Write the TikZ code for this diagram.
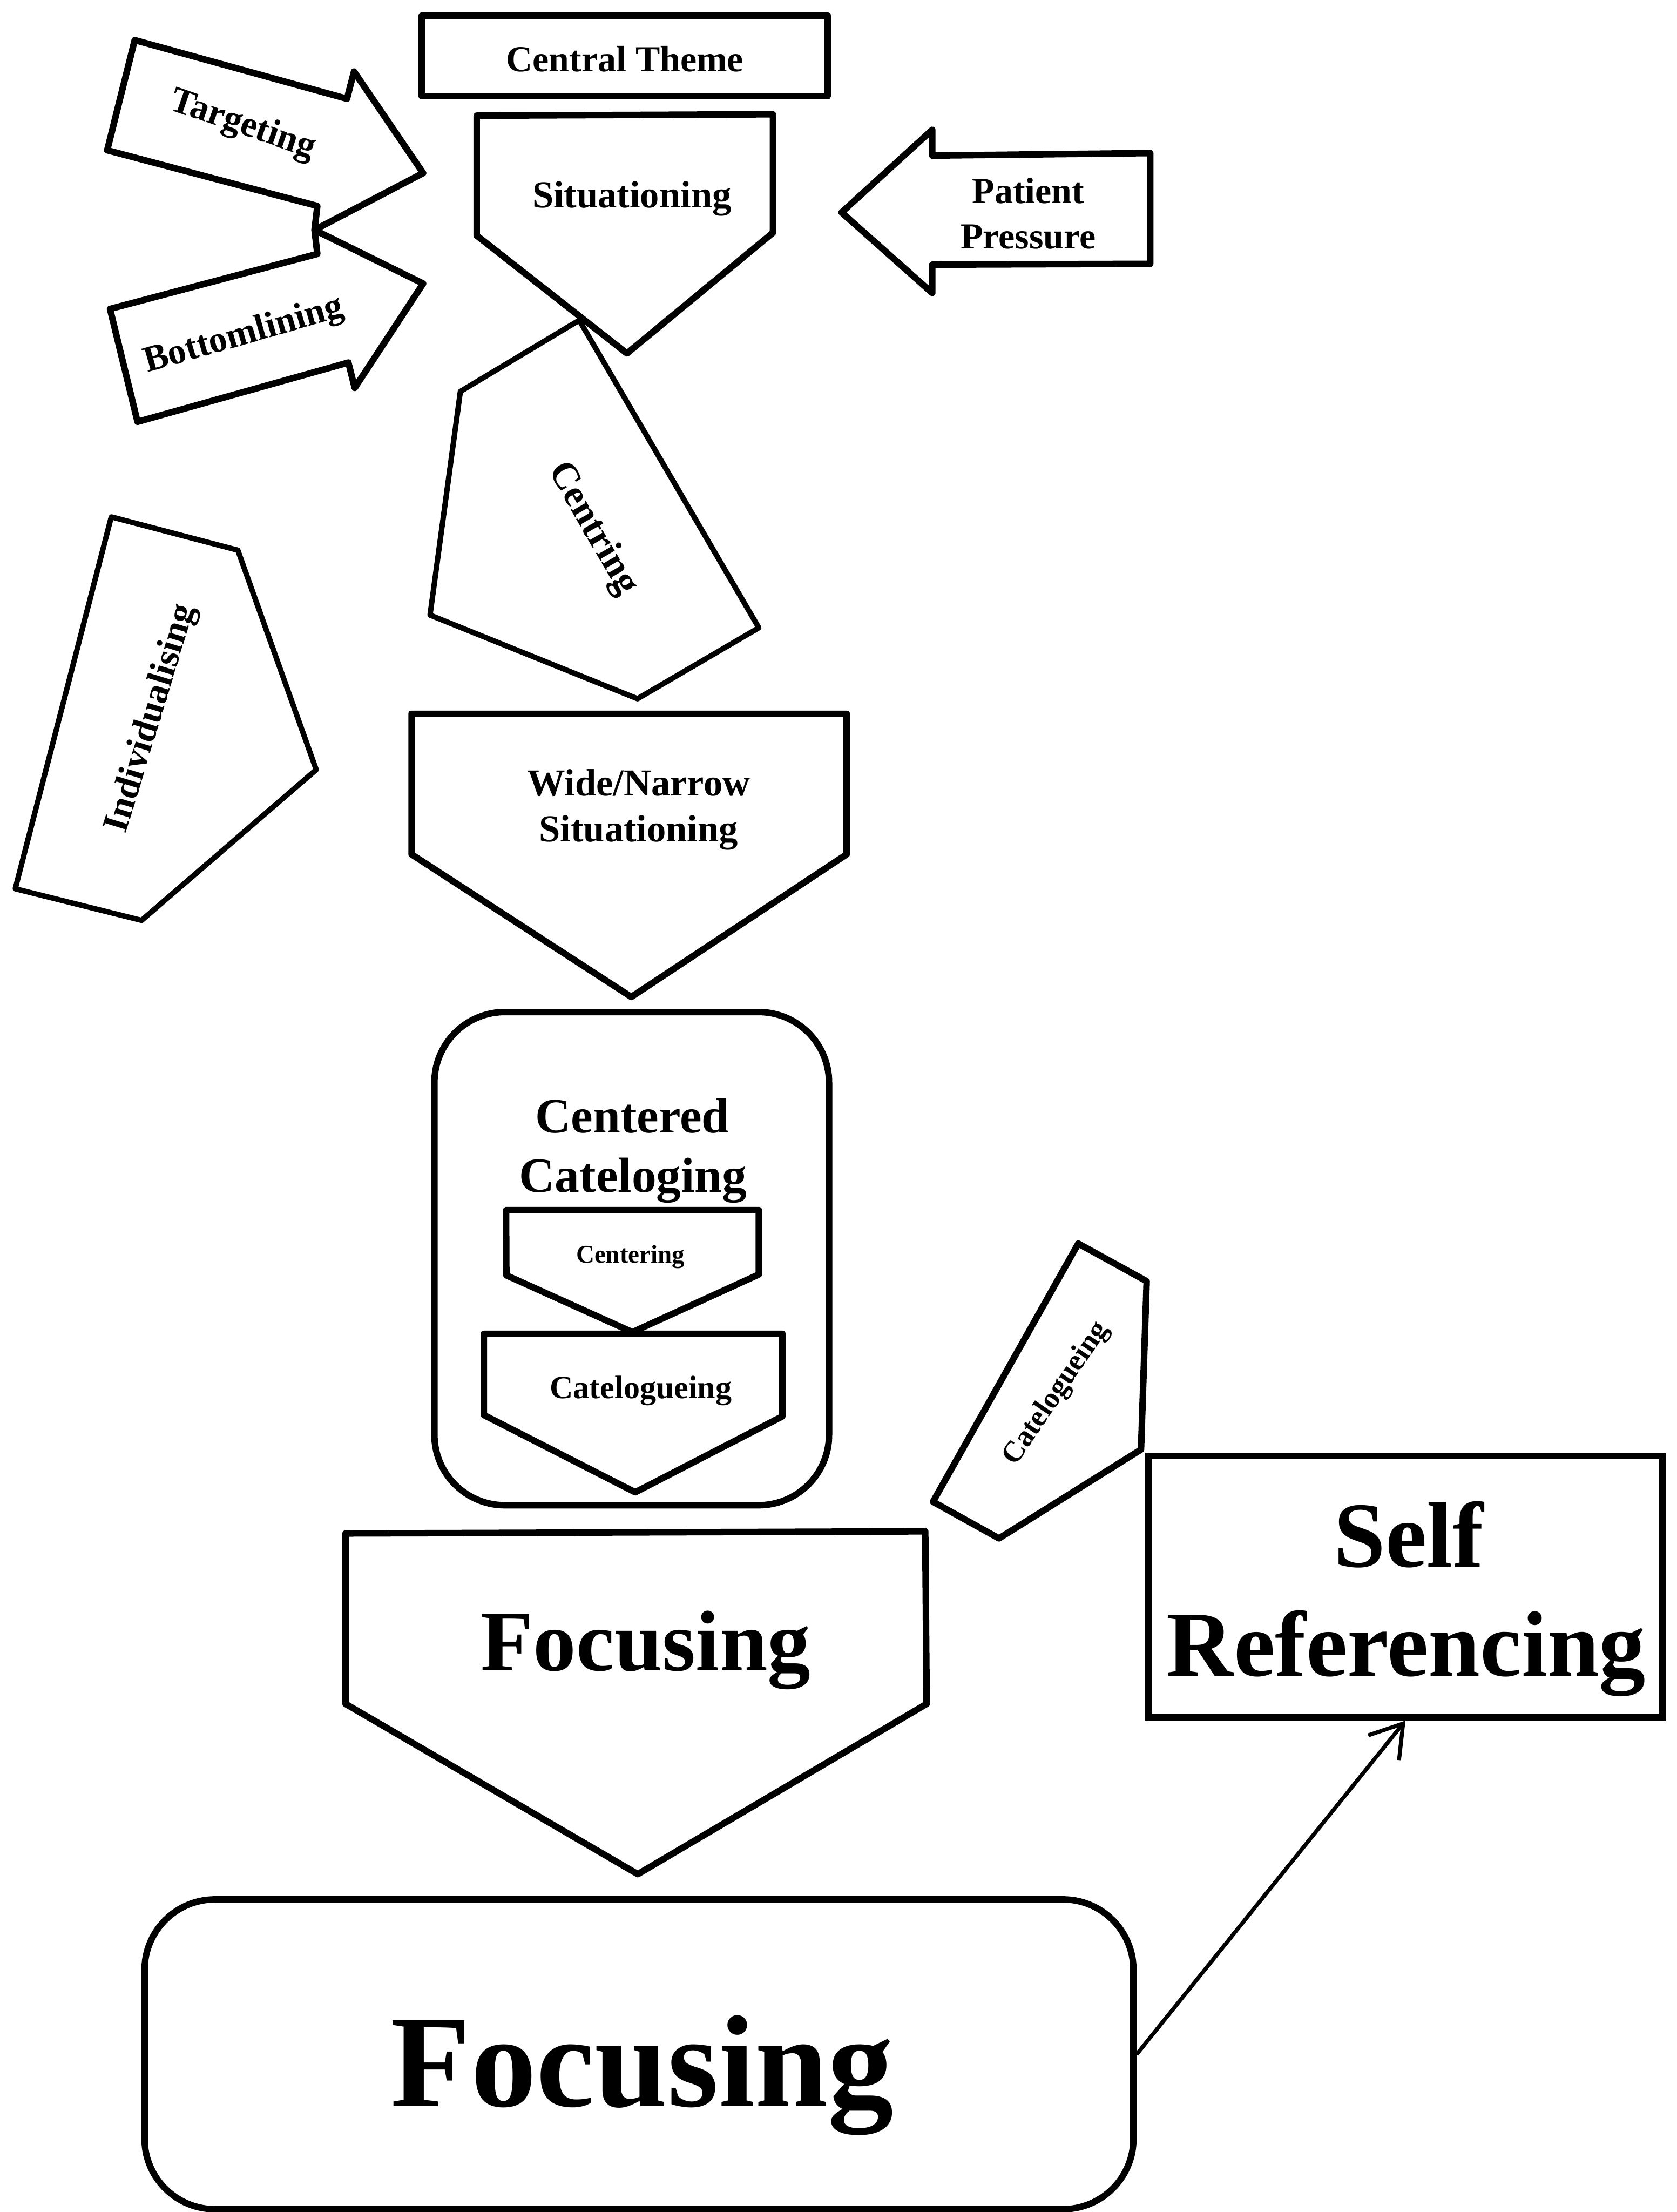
\documentclass[tikz,border=0pt]{standalone}
\usepackage{fontspec}
\setmainfont{Liberation Serif}
\usetikzlibrary{arrows.meta}
\newcommand\txtsize[1]{\fontsize{#1}{#1}\selectfont\bfseries}
\begin{document}
\begin{tikzpicture}[x=1pt,y=-1pt,
  shapeline/.style={draw=black,line width=4.6pt,line join=round,fill=white},
  lbl/.style={inner sep=0pt,outer sep=0pt,text=black},
  boxnode/.style={draw=black,line width=4.6pt,inner sep=0pt,minimum width=#1},
]
\useasboundingbox[fill=white] (0,0) rectangle (1189,1568);

% central theme box
\draw[shapeline] (299,11) rectangle (587,68);
\node[lbl,anchor=base,font=\txtsize{26}] (theme) at (443,50.7) {Central Theme};

% two arrows pointing at the first pentagon
\draw[shapeline] (95.5,28.4) -- (246,70) -- (251,50.7) -- (300,122.7) -- (223,163)
  -- (225,146) -- (76,106.5) -- cycle;
\node[lbl,rotate=-19,font=\txtsize{26}] (target) at (172,89) {Targeting};

\draw[shapeline] (223,163) -- (225,180) -- (78,219) -- (97.5,299) -- (247,257)
  -- (251.5,275) -- (300,201) -- cycle;
\node[lbl,rotate=16,font=\txtsize{26}] (bottom) at (173,238) {Bottomlining};

% arrow coming in from the right
\draw[shapeline] (596.7,150.6) -- (661,92) -- (661,110.3) -- (815.5,108.5)
  -- (815.5,187) -- (661,187.6) -- (661,207.7) -- cycle;
\node[lbl,anchor=base,font=\txtsize{26}] (patient) at (729,144) {Patient};
\node[lbl,anchor=base,font=\txtsize{26}] (pressure) at (729,176.3) {Pressure};

% tilted pentagons
\draw[shapeline,line width=3.8pt] (410.7,227) -- (326.4,277.5) -- (304.9,436)
  -- (452,495.3) -- (538,445) -- cycle;
\node[lbl,rotate=-60,font=\txtsize{27}] (centring) at (420,375) {Centring};

\draw[shapeline] (338,82) -- (548,81) -- (548,165) -- (444.5,250.5)
  -- (338,167) -- cycle;
\node[lbl,anchor=base,font=\txtsize{27}] (situ) at (448,147.1) {Situationing};

\draw[shapeline,line width=3.8pt] (78.9,366.4) -- (168.6,390) -- (224.2,545.6)
  -- (100.4,652.4) -- (10.8,630) -- cycle;
\node[lbl,rotate=73,font=\txtsize{26}] (indiv) at (107.6,509.3) {Individualising};

% wide / narrow situationing
\draw[shapeline] (291.8,506) -- (600.3,506) -- (600.3,605.6) -- (447.6,706.7)
  -- (291.8,605.6) -- cycle;
\node[lbl,anchor=base,font=\txtsize{27}] (wide) at (452.8,564.2) {Wide/Narrow};
\node[lbl,anchor=base,font=\txtsize{27}] (wsitu) at (452.8,596.5) {Situationing};

% centered cataloguing group
\draw[shapeline,rounded corners=50pt] (308,717.4) rectangle (587.8,1067);
\node[lbl,anchor=base,font=\txtsize{35}] (centered) at (448.4,802.8) {Centered};
\node[lbl,anchor=base,font=\txtsize{35}] (catelog) at (448.9,844.9) {Cateloging};

\draw[shapeline] (358.8,857.8) -- (538,857.8) -- (538,903.4) -- (448.4,944.3)
  -- (359,904) -- cycle;
\node[lbl,anchor=base,font=\txtsize{18}] (centering) at (447,895.2) {Centering};

\draw[shapeline] (343,945.5) -- (554.7,945.5) -- (554.7,1004) -- (450.4,1057.8)
  -- (343,1003) -- cycle;
\node[lbl,anchor=base,font=\txtsize{23}] (catin) at (454.3,991.1) {Catelogueing};

% detached cataloguing pentagon
\draw[shapeline] (764.5,881.5) -- (813,908.2) -- (809,1027.5) -- (708.3,1090.5)
  -- (661.5,1064.5) -- cycle;
\node[lbl,rotate=56,font=\txtsize{21}] (catout) at (749,988) {Catelogueing};

% focusing pentagon
\draw[shapeline] (245,1087) -- (656,1085.5) -- (657,1207.8) -- (452.2,1328.5)
  -- (245,1207.8) -- cycle;
\node[lbl,anchor=base,font=\txtsize{61}] (focus) at (457.8,1184.3) {Focusing};

% self referencing box
\node[boxnode=364.1pt,minimum height=185.4pt] (selfref) at (996.45,1124.7) {};
\node[lbl,anchor=base,font=\txtsize{66}] (selft) at (998.8,1110.7) {Self};
\node[lbl,anchor=base,font=\txtsize{66}] (reft) at (997,1188) {Referencing};

% large focusing box
\node[boxnode=701.1pt,minimum height=219.6pt,rounded corners=50pt] (bigfocus)
  at (453.05,1456.2) {};
\node[lbl,anchor=base,font=\txtsize{93}] (bigtxt) at (455.4,1493.2) {Focusing};

% connector
\draw[line width=2.8pt,-{Straight Barb[length=22pt,width=28pt,line width=2.8pt]}]
  (bigfocus.east) -- (selfref.south);
\end{tikzpicture}
\end{document}
